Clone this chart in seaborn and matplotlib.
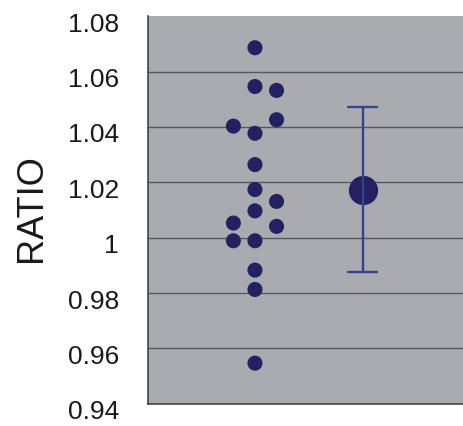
"""Ratio dot plot with mean ± SD."""

import matplotlib

matplotlib.use("Agg")
import matplotlib.pyplot as plt
import matplotlib.transforms as mtransforms
import numpy as np
import seaborn as sns

# individual ratios (one dot per sample) and their column in the dot chart
ratio = [1.0686, 1.0546, 1.0532, 1.0426, 1.0403, 1.0377, 1.0264, 1.0174, 1.0131,
         1.0097, 1.0053, 1.0041, 0.9989, 0.9989, 0.9883, 0.9813, 0.9547]
lane = [0, 0, 1, 1, -1, 0, 0, 0, 1, 0, -1, 1, -1, 0, 0, 0, 0]
y_ticks = [0.94, 0.96, 0.98, 1.00, 1.02, 1.04, 1.06, 1.08]
y_label = "RATIO"

DOT = "#222260"
ERR = "#36428c"
BG = "#aaaab1"
LANE_W = 0.2

sns.set_style("white")
plt.rcParams["font.family"] = ["Liberation Sans", "DejaVu Sans"]

fig = plt.figure(figsize=(4.63, 4.26), dpi=100)
ax = fig.add_axes([0.32, 0.052, 0.72, 0.910])
ax.set_facecolor(BG)

x_dots = np.array(lane) * LANE_W
sns.scatterplot(x=x_dots, y=ratio, ax=ax, s=118, color=DOT, edgecolor="none", zorder=3)
sns.pointplot(x=np.ones(len(ratio)), y=ratio, ax=ax, native_scale=True,
              errorbar="sd", capsize=0.27, color=DOT, markersize=19,
              linestyle="none", err_kws={"color": ERR, "linewidth": 1.7}, zorder=3)

ax.set_xlim(-0.99, 2.1)
ax.set_ylim(0.94, 1.08)
ax.set_xticks([])
ax.set_yticks(y_ticks)
ax.set_yticklabels([f"{v:g}" for v in y_ticks], fontsize=19, color="#1a1a1a")
ax.tick_params(axis="y", length=0, pad=21)
# the labels sit a little below their grid lines in the original
shift = mtransforms.ScaledTranslation(0, -6 / 100, fig.dpi_scale_trans)
for lbl in ax.get_yticklabels():
    lbl.set_transform(lbl.get_transform() + shift)
for v in y_ticks[1:-1]:
    ax.axhline(v, color="#58585c", lw=1.0, zorder=1)
ax.set_xlabel("")
ax.set_ylabel(y_label, fontsize=26, color="#1a1a1a")
ax.yaxis.set_label_coords(-0.296, 0.505)

for side in ["top", "right"]:
    ax.spines[side].set_visible(False)
for side in ["left", "bottom"]:
    ax.spines[side].set_color("#444448")
    ax.spines[side].set_linewidth(1.2)

fig.savefig("out.png", dpi=100)
